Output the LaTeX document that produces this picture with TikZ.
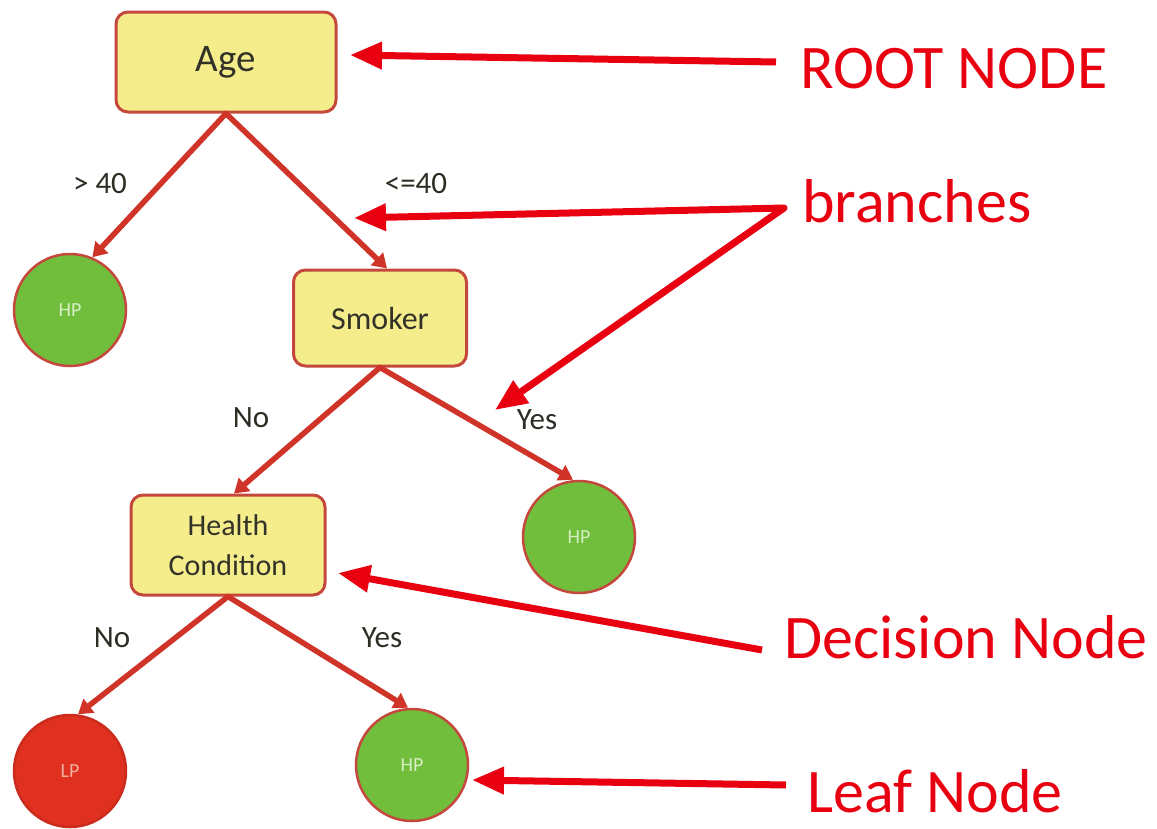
\documentclass[tikz,border=0pt]{standalone}
\usepackage{fontspec}
\setmainfont{Carlito}
\usetikzlibrary{arrows.meta}
\definecolor{boxfill}{RGB}{245,236,140}
\definecolor{boxline}{RGB}{196,72,60}
\definecolor{edgered}{RGB}{208,52,40}
\definecolor{leafgreen}{RGB}{112,190,60}
\definecolor{leafred}{RGB}{224,48,32}
\definecolor{annored}{RGB}{232,0,16}
\definecolor{txtdark}{RGB}{50,50,40}
\definecolor{hptext}{RGB}{215,238,195}
\definecolor{lptext}{RGB}{242,175,160}
\begin{document}
\begin{tikzpicture}[x=1pt,y=-1pt,
 dbox/.style={draw=boxline, line width=3pt, fill=boxfill, rounded corners=12pt, text=txtdark, inner sep=0pt, align=center},
 leaf/.style={circle, draw=boxline, line width=2.5pt, minimum size=112pt, inner sep=0pt, font=\fontsize{20}{22}\selectfont},
 edge/.style={draw=edgered, line width=5.5pt, line cap=round, -{Triangle[length=14pt,width=17pt]}},
 elabel/.style={text=txtdark!90!black, font=\fontsize{31}{33}\selectfont, anchor=base, inner sep=0pt},
 anno/.style={text=annored, font=\fontsize{62}{70}\selectfont, anchor=base west, inner sep=0pt},
 annoarrow/.style={draw=annored, line width=7pt, line join=round, -{Triangle[length=32pt,width=26pt]}}]
\useasboundingbox (0,0) rectangle (1157,828);

% decision nodes
\node[dbox, minimum width=220pt, minimum height=100pt, font=\fontsize{39}{40}\selectfont] (age) at (226,62) {\raisebox{-5pt}{Age}};
\node[dbox, minimum width=173pt, minimum height=96pt, font=\fontsize{32}{36}\selectfont] (smoker) at (380,318) {Smoker};
\node[dbox, minimum width=194pt, minimum height=100pt, font=\fontsize{30}{40}\selectfont] (health) at (228,545) {Health\\Condition};

% leaf nodes
\node[leaf, fill=leafgreen, text=hptext] (hp1) at (70,310) {HP};
\node[leaf, fill=leafgreen, text=hptext] (hp2) at (579,537) {HP};
\node[leaf, fill=leafred, draw=leafred!90!black, text=lptext] (lp) at (70,771) {LP};
\node[leaf, fill=leafgreen, text=hptext] (hp3) at (412,765) {HP};

% tree edges
\draw[edge] (age.south) -- (hp1.67);
\draw[edge] (age.south) -- ([xshift=7pt]smoker.north);
\draw[edge] (smoker.south) -- ([xshift=6pt]health.north);
\draw[edge] (smoker.south) -- ([xshift=-6pt]hp2.north);
\draw[edge] (health.south) -- (lp.82);
\draw[edge] (health.south) -- ([xshift=-4pt]hp3.north);

% edge labels
\node[elabel] (l1) at (100,193) {> 40};
\node[elabel] (l2) at (416,193) {<=40};
\node[elabel] (l3) at (251,427) {No};
\node[elabel] (l4) at (537,429) {Yes};
\node[elabel] (l5) at (112,647) {No};
\node[elabel] (l6) at (382,647) {Yes};

% annotation labels
\node[anno] (root) at (800,88) {ROOT NODE};
\node[anno] (branches) at (802,222) {branches};
\node[anno] (decision) at (784,658) {Decision Node};
\node[anno] (leafl) at (807,812) {Leaf Node};

% annotation arrows
\coordinate (rootTail) at (776,62);
\coordinate (rootTip) at (350,55);
\coordinate (brTail) at (784,208);
\coordinate (brTip1) at (354,218);
\coordinate (brTip2) at (495,410);
\coordinate (decTail) at (762,650);
\coordinate (decTip) at (338,573);
\coordinate (leafTail) at (786,785);
\coordinate (leafTip) at (472,780);

\draw[annoarrow] (rootTail) -- (rootTip);
\draw[annoarrow, {Triangle[length=32pt,width=26pt]}-{Triangle[length=32pt,width=26pt]}] (brTip1) -- (brTail) -- (brTip2);
\draw[annoarrow] (decTail) -- (decTip);
\draw[annoarrow] (leafTail) -- (leafTip);
\end{tikzpicture}
\end{document}
